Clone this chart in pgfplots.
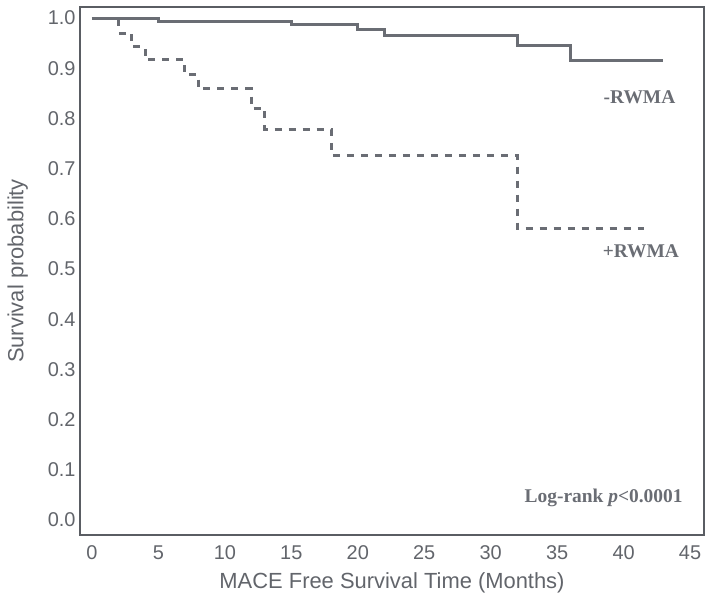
\documentclass[border=0pt]{standalone}
\usepackage{pgfplots}
\pgfplotsset{compat=1.18}
\usepackage{fontspec}
\setmainfont{Liberation Sans}
\newfontfamily\serifb{Liberation Serif}
\definecolor{framec}{HTML}{5A5D63}
\definecolor{curvec}{HTML}{6A6D74}
\definecolor{textc}{HTML}{62656B}
\begin{document}
\begin{tikzpicture}
\useasboundingbox (0,0) rectangle (705bp,600bp);
\begin{axis}[
  at={(80bp,65bp)}, anchor=south west,
  scale only axis, width=624bp, height=528bp,
  xmin=-0.9, xmax=46.05, ymin=-0.03, ymax=1.022,
  xtick={0,5,10,15,20,25,30,35,40,45},
  ytick={0,0.1,0.2,0.3,0.4,0.5,0.6,0.7,0.8,0.9,1.0},
  yticklabel style={/pgf/number format/fixed, /pgf/number format/fixed zerofill, /pgf/number format/precision=1, xshift=-1bp},
  /pgf/number format/assume math mode=true,
  major tick length=0pt,
  axis line style={color=framec, line width=2.5bp},
  tick label style={font=\fontsize{20}{22}\selectfont, text=textc},
  xticklabel style={yshift=-7bp},
  xlabel={MACE Free Survival Time (Months)},
  ylabel={Survival probability},
  label style={font=\fontsize{22}{24}\selectfont, text=textc},
  xlabel style={at={(axis description cs:0.5,-0.091)}, anchor=center},
  ylabel style={at={(axis description cs:-0.1,0.5)}, anchor=center},
  clip=false,
]
\addplot[const plot, color=curvec, line width=3bp] coordinates {
  (0,1.0) (5,0.993) (15,0.987) (20,0.977) (22,0.966) (32,0.946) (36,0.915) (43,0.915)
};
\addplot[const plot, color=curvec, line width=3bp, dash pattern=on 7bp off 7bp] coordinates {
  (0,1.0) (2,0.970) (3,0.943) (4,0.917) (7,0.887) (8,0.859) (12,0.820) (13,0.778) (18,0.727) (32,0.581) (41.5,0.581)
};
\node[text=curvec, font=\serifb\bfseries\fontsize{19.5}{22}\selectfont] at (axis cs:41.2,0.843) {-RWMA};
\node[text=curvec, font=\serifb\bfseries\fontsize{19.5}{22}\selectfont] at (axis cs:41.3,0.536) {+RWMA};
\node[text=curvec, font=\serifb\bfseries\fontsize{19.5}{22}\selectfont] at (axis cs:38.5,0.044) {Log-rank \textit{p}<0.0001};
\end{axis}
\end{tikzpicture}
\end{document}
